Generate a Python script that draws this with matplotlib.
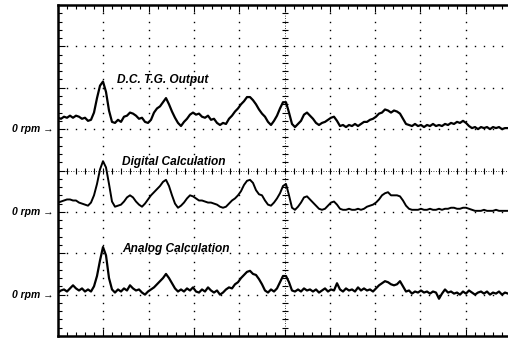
import matplotlib
matplotlib.use("Agg")
import matplotlib.pyplot as plt
import numpy as np

# scope settings: 10 x 8 divisions, 40 mV per vertical division
mv_per_div = 40.0
baselines = [5.0, 3.0, 1.0]  # zero-rpm level of each trace, in divisions

trace_names = ["D.C. T.G. Output", "Digital Calculation", "Analog Calculation"]

# tachogenerator output (mV above its zero level)
tg_output = [
    11, 10, 12, 11, 13, 11, 13, 12, 10, 11,
    8, 9, 16, 30, 42, 46, 36, 18, 7, 6,
    9, 7, 12, 13, 16, 15, 13, 10, 11, 7,
    6, 9, 16, 20, 22, 26, 30, 24, 17, 11,
    6, 3, 7, 10, 14, 16, 14, 15, 12, 11,
    13, 9, 10, 6, 4, 6, 5, 10, 13, 17,
    20, 24, 27, 31, 31, 28, 24, 19, 15, 12,
    7, 4, 8, 13, 20, 26, 26, 16, 5, 2,
    5, 8, 14, 16, 13, 10, 6, 4, 6, 7,
    9, 11, 12, 8, 3, 4, 2, 4, 3, 5,
    3, 5, 7, 7, 9, 10, 12, 15, 16, 19,
    18, 16, 18, 17, 15, 10, 5, 4, 3, 5,
    3, 4, 2, 4, 3, 5, 3, 4, 3, 5,
    4, 6, 5, 7, 6, 8, 6, 3, 1, 2,
    0, 2, 1, 2, 0, 2, 1, 2, 0, 1,
    1,
]

# speed from the digital calculation
digital_calc = [
    9, 10, 11, 12, 12, 11, 11, 9, 8, 7,
    6, 9, 16, 27, 41, 49, 43, 27, 10, 5,
    6, 7, 10, 14, 16, 14, 10, 7, 5, 8,
    12, 16, 19, 22, 25, 29, 31, 25, 16, 8,
    4, 6, 9, 13, 16, 15, 13, 11, 11, 10,
    9, 9, 8, 7, 5, 4, 5, 8, 11, 13,
    16, 20, 26, 30, 31, 28, 21, 17, 16, 11,
    7, 6, 9, 13, 18, 25, 27, 16, 4, 2,
    5, 9, 14, 15, 12, 9, 6, 3, 2, 3,
    6, 9, 10, 7, 3, 2, 2, 3, 2, 2,
    3, 2, 3, 5, 6, 7, 9, 12, 16, 18,
    19, 16, 16, 16, 15, 11, 6, 3, 2, 2,
    2, 3, 2, 2, 3, 2, 2, 3, 2, 3,
    3, 4, 4, 3, 3, 4, 4, 3, 2, 1,
    1, 1, 2, 1, 1, 1, 2, 1, 1, 1,
    1,
]

# speed from the analog calculation
analog_calc = [
    2, 4, 5, 3, 6, 9, 6, 4, 6, 3,
    5, 3, 8, 18, 33, 46, 38, 16, 5, 2,
    5, 3, 6, 4, 9, 6, 4, 5, 2, 0,
    3, 5, 7, 10, 13, 16, 20, 16, 11, 6,
    3, 5, 3, 6, 4, 7, 3, 2, 5, 3,
    7, 4, 2, 4, 0, 2, 5, 7, 6, 10,
    12, 16, 19, 22, 23, 20, 19, 15, 10, 4,
    2, 5, 3, 6, 12, 18, 18, 12, 4, 3,
    5, 3, 6, 4, 5, 3, 5, 2, 4, 6,
    3, 5, 4, 11, 5, 3, 6, 4, 5, 3,
    7, 4, 6, 4, 5, 3, 6, 9, 11, 13,
    12, 10, 9, 10, 13, 8, 3, 4, 1, 3,
    2, 4, 2, 3, 1, 3, 2, -4, 1, 5,
    2, 3, 1, 2, 0, 3, 1, 4, 2, 0,
    2, 3, 1, 3, 0, 2, 1, 3, 0, 2,
    1,
]

traces = [tg_output, digital_calc, analog_calc]
trace_widths = [1.6, 1.4, 1.6]
label_pos = [(1.30, 6.18), (1.41, 4.20), (1.41, 2.10)]

# sample times in divisions across the screen
t = np.arange(len(tg_output)) * 10.0 / 151

fig = plt.figure(figsize=(5.08, 3.38), dpi=100)
ax = fig.add_axes([58 / 508, 2 / 338, 453 / 508, 331 / 338])
ax.set_xlim(0, 10)
ax.set_ylim(0, 8)

# graticule: dotted division lines
minor_x = np.arange(0, 10.01, 0.2)
minor_y = np.arange(0, 8.01, 0.2)
for gx in range(1, 10):
    if gx == 5:
        continue
    ax.plot(np.full_like(minor_y, gx), minor_y, ls="none", marker="s",
            ms=1.0, color="black", mew=0)
for gy in range(1, 8):
    if gy == 4:
        continue
    ax.plot(minor_x, np.full_like(minor_x, gy), ls="none", marker="s",
            ms=1.0, color="black", mew=0)

# centre cross with small tick marks
ax.axhline(4, color="black", lw=0.6, ls=(0, (1, 2)))
ax.axvline(5, color="black", lw=0.6, ls=(0, (1, 2)))
ax.plot(minor_x, np.full_like(minor_x, 4), ls="none", marker="|", ms=4,
        mew=0.8, color="black")
ax.plot(np.full_like(minor_y, 5), minor_y, ls="none", marker="_", ms=4,
        mew=0.8, color="black")

for vals, base, name, (lx, ly), lw in zip(traces, baselines, trace_names,
                                          label_pos, trace_widths):
    y = base + np.array(vals) / mv_per_div
    ax.plot(t, y, color="black", lw=lw)
    ax.text(lx, ly, name, fontsize=8.6, fontweight="bold", fontstyle="italic",
            family="Liberation Sans", va="center", ha="left")
    ax.text(-0.01, base, "0 rpm \u2192", fontsize=7.5, fontweight="bold",
            fontstyle="italic", family="Liberation Sans", va="center",
            ha="right", transform=ax.get_yaxis_transform())

ax.set_xticks(np.arange(0, 11, 1))
ax.set_yticks(np.arange(0, 9, 1))
ax.set_xticks(minor_x, minor=True)
ax.set_yticks(minor_y, minor=True)
ax.tick_params(which="both", direction="in", top=True, bottom=True,
               left=True, right=False, labelbottom=False, labelleft=False,
               width=0.8, color="black")
ax.tick_params(which="major", length=5)
ax.tick_params(which="minor", length=3)
for side in ["left", "top", "bottom"]:
    ax.spines[side].set_linewidth(1.8)
ax.spines["right"].set_visible(False)

fig.savefig("out.png", dpi=100)
